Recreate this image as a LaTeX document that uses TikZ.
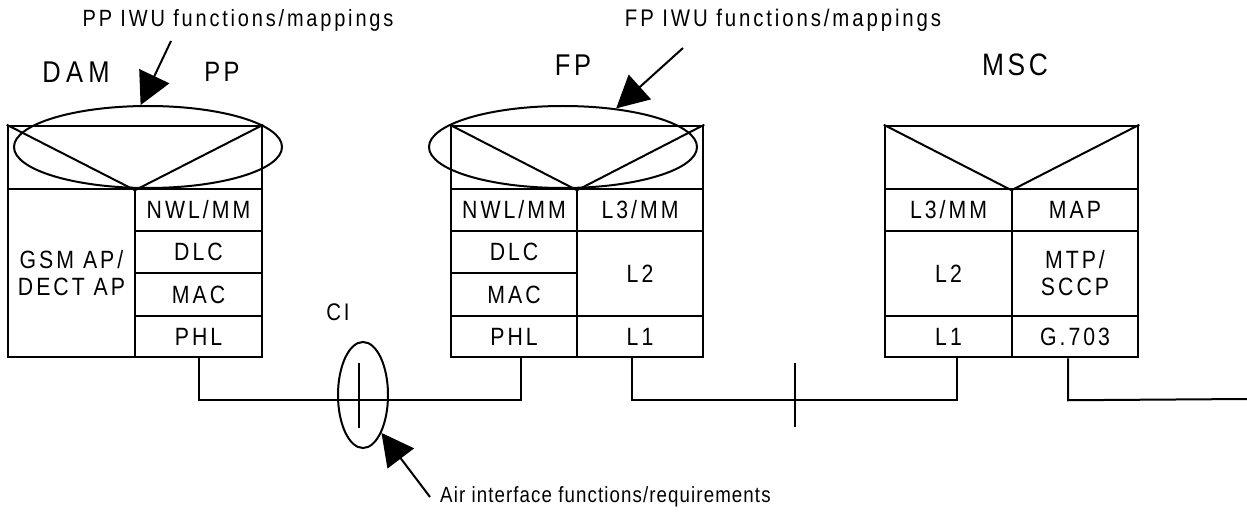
\documentclass[tikz,border=0pt]{standalone}
\usepackage{fontspec}
\setmainfont[FakeStretch=0.85,LetterSpace=12]{Liberation Sans}
\usetikzlibrary{arrows.meta,shapes.geometric}
\begin{document}
\begin{tikzpicture}[x=1pt,y=-1pt,
  cell/.style={draw,line width=2.5pt,inner sep=0pt,align=center,font=\fontsize{25}{27}\selectfont},
  topbox/.style={draw,line width=2.5pt,inner sep=0pt},
  vlines/.style={line width=2pt},
  wire/.style={line width=2pt},
  oval/.style={draw,ellipse,line width=2pt,inner sep=0pt},
  bigarrow/.style={line width=2pt,-{Triangle[length=32pt,width=33pt]}},
  big/.style={inner sep=0pt,font=\fontsize{28}{30}\selectfont},
  note/.style={inner sep=0pt,font=\fontsize{23.5}{26}\selectfont}]
\useasboundingbox (0,0) rectangle (1247,513);

% ---------- PP stack ----------
\node[topbox,minimum width=254pt,minimum height=63pt] (pptop) at (135,157.5) {};
\draw[vlines] (pptop.north west) -- (pptop.south) -- (pptop.north east);
\node[cell,minimum width=127pt,minimum height=168pt] (ppgsm) at (71.5,273) {GSM AP/\\DECT AP};
\node[cell,minimum width=127pt,minimum height=42pt] (ppnwl) at (198.5,210) {NWL/MM};
\node[cell,minimum width=127pt,minimum height=42pt] (ppdlc) at (198.5,252) {DLC};
\node[cell,minimum width=127pt,minimum height=43pt] (ppmac) at (198.5,294.5) {MAC};
\node[cell,minimum width=127pt,minimum height=41pt] (ppphl) at (198.5,336.5) {PHL};
\node[oval,minimum width=268pt,minimum height=82pt] (ppiwu) at (148,147) {};

% ---------- FP stack ----------
\node[topbox,minimum width=252pt,minimum height=63pt] (fptop) at (577,157.5) {};
\draw[vlines] (fptop.north west) -- (fptop.south) -- (fptop.north east);
\node[cell,minimum width=126pt,minimum height=42pt] (fpnwl) at (514,210) {NWL/MM};
\node[cell,minimum width=126pt,minimum height=42pt] (fpdlc) at (514,252) {DLC};
\node[cell,minimum width=126pt,minimum height=43pt] (fpmac) at (514,294.5) {MAC};
\node[cell,minimum width=126pt,minimum height=41pt] (fpphl) at (514,336.5) {PHL};
\node[cell,minimum width=126pt,minimum height=42pt] (fpl3) at (640,210) {L3/MM};
\node[cell,minimum width=126pt,minimum height=85pt] (fpl2) at (640,273.5) {L2};
\node[cell,minimum width=126pt,minimum height=41pt] (fpl1) at (640,336.5) {L1};
\node[oval,minimum width=268pt,minimum height=82pt] (fpiwu) at (563,147) {};

% ---------- MSC stack ----------
\node[topbox,minimum width=253pt,minimum height=63pt] (msctop) at (1011.5,157.5) {};
\draw[vlines] (msctop.north west) -- (msctop.south) -- (msctop.north east);
\node[cell,minimum width=127pt,minimum height=42pt] (mscl3) at (948.5,210) {L3/MM};
\node[cell,minimum width=127pt,minimum height=85pt] (mscl2) at (948.5,273.5) {L2};
\node[cell,minimum width=127pt,minimum height=41pt] (mscl1) at (948.5,336.5) {L1};
\node[cell,minimum width=126pt,minimum height=42pt] (mscmap) at (1075,210) {MAP};
\node[cell,minimum width=126pt,minimum height=85pt] (mscmtp) at (1075,273.5) {MTP/\\SCCP};
\node[cell,minimum width=126pt,minimum height=41pt] (mscg) at (1075,336.5) {G.703};

% ---------- titles ----------
\node[big,font=\fontsize{30}{32}\selectfont\addfontfeatures{LetterSpace=18}] (dam) at (76,72) {DAM};
\node[big] (pp) at (222,72) {PP};
\node[big,font=\fontsize{30}{32}\selectfont] (fp) at (573,65) {FP};
\node[big,font=\fontsize{31}{33}\selectfont] (msc) at (1015,65) {MSC};
\node[big,font=\fontsize{24}{26}\selectfont] (cilbl) at (338,312) {CI};

% ---------- wires ----------
\coordinate (busend) at (1247,399);
\draw[wire] (ppphl.south) -- ++(0,42) -| ([xshift=7pt]fpphl.south);
\draw[wire] ([xshift=-8pt]fpl1.south) -- ++(0,42) -| ([xshift=8pt]mscl1.south);
\draw[wire] ([xshift=-7pt]mscg.south) -- ++(0,42) -- (busend);
\coordinate (tickT) at (795,363);
\coordinate (tickB) at (795,427);
\draw[wire] (tickT) -- (tickB);

% ---------- CI ----------
\node[oval,minimum width=50pt,minimum height=106pt] (ci) at (363,395) {};
\coordinate (ciT) at (359,363);
\coordinate (ciB) at (359,428);
\draw[wire] (ciT) -- (ciB);

% ---------- notes ----------
\node[note] (ppnote) at (238,20) {PP IWU functions/mappings};
\node[note,font=\fontsize{24}{26}\selectfont] (fpnote) at (783,20) {FP IWU functions/mappings};
\node[note,anchor=west,font=\fontsize{22}{24}\selectfont\addfontfeatures{LetterSpace=5}] (airnote) at (440,497) {Air interface functions/requirements};
\coordinate (ppA) at (171,41);
\coordinate (fpA) at (683,48);
\coordinate (airA) at (430,497);
\draw[bigarrow] (ppA) -- (ppiwu.100);
\draw[bigarrow] (fpA) -- (fpiwu.36);
\draw[bigarrow] (airA) -- (ci.-64);
\end{tikzpicture}
\end{document}
